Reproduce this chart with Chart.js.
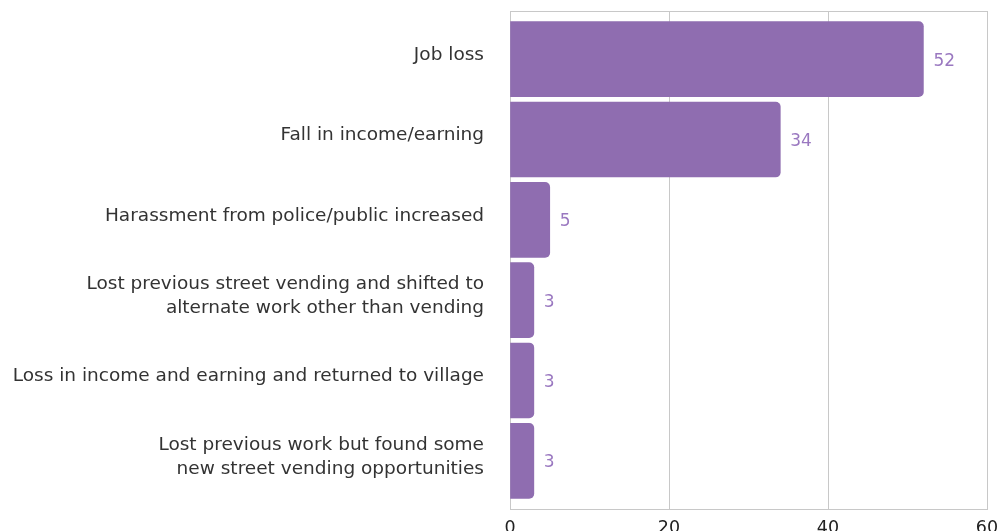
<!DOCTYPE html>
<html>
<head>
<meta charset="utf-8">
<script src="https://cdn.jsdelivr.net/npm/chart.js@4"></script>
<style>
  html, body { margin: 0; padding: 0; background: #fff; overflow: hidden; }
  #wrap { width: 1001px; height: 545px; position: relative; }
</style>
</head>
<body>
<div id="wrap"><canvas id="impactChart"></canvas></div>
<script>
// categories (multi-line ones split into arrays)
const categories = [
    'Job loss',
    'Fall in income/earning',
    'Harassment from police/public increased',
    ['Lost previous street vending and shifted to', 'alternate work other than vending'],
    'Loss in income and earning and returned to village',
    ['Lost previous work but found some', 'new street vending opportunities']
];
const counts = [52, 34, 5, 3, 3, 3];
const xTicks = [0, 20, 40, 60];

const barColor = '#8f6db0';
const valueColor = '#9a78c0';
const gridColor = '#c8c8c8';
const fontFamily = "'DejaVu Sans', sans-serif";

// top edge of the plot box
const topBorder = {
    id: 'topBorder',
    beforeDatasetsDraw(chart) {
        const { ctx, chartArea } = chart;
        ctx.save();
        ctx.strokeStyle = gridColor;
        ctx.lineWidth = 1;
        ctx.beginPath();
        ctx.moveTo(chartArea.left, chartArea.top + 0.5);
        ctx.lineTo(chartArea.right, chartArea.top + 0.5);
        ctx.stroke();
        ctx.restore();
    }
};

// value labels to the right of each bar
const valueLabels = {
    id: 'valueLabels',
    afterDatasetsDraw(chart) {
        const { ctx } = chart;
        const meta = chart.getDatasetMeta(0);
        ctx.save();
        ctx.fillStyle = valueColor;
        ctx.font = '17px ' + fontFamily;
        ctx.textAlign = 'left';
        ctx.textBaseline = 'middle';
        meta.data.forEach((bar, i) => {
            ctx.fillText(counts[i], bar.x + 10, bar.y + 2);
        });
        ctx.restore();
    }
};

// keep the plot box fixed: no extra room for overhanging tick labels
function noLabelPadding(scale) {
    scale.paddingTop = 0;
    scale.paddingBottom = 0;
    scale.paddingLeft = 0;
    scale.paddingRight = 0;
}

const ctx = document.getElementById('impactChart').getContext('2d');
const chart = new Chart(ctx, {
    type: 'bar',
    data: {
        datasets: [{
            data: counts.map((v, i) => ({ x: v, y: i })),
            backgroundColor: barColor,
            borderRadius: 5,
            borderSkipped: 'start',
            barThickness: 75
        }]
    },
    options: {
        indexAxis: 'y',
        responsive: true,
        maintainAspectRatio: false,
        animation: false,
        layout: { padding: { top: 11, right: 14, bottom: 6, left: 0 } },
        plugins: {
            legend: { display: false },
            tooltip: { enabled: false }
        },
        scales: {
            x: {
                min: 0,
                max: 60,
                afterBuildTicks: scale => { scale.ticks = xTicks.map(v => ({ value: v })); },
                afterFit: scale => { scale.height = 30; noLabelPadding(scale); },
                grid: { color: gridColor, drawTicks: false },
                border: { color: gridColor },
                ticks: {
                    padding: 9,
                    color: '#222',
                    font: { family: fontFamily, size: 17.5 },
                    maxRotation: 0
                }
            },
            y: {
                type: 'linear',
                reverse: true,
                offset: false,
                min: -0.6,
                max: 5.6,
                afterBuildTicks: scale => { scale.ticks = categories.map((c, i) => ({ value: i })); },
                afterFit: scale => { scale.width = 510; noLabelPadding(scale); },
                grid: { display: false, offset: false },
                border: { color: gridColor },
                ticks: {
                    autoSkip: false,
                    padding: 18,
                    labelOffset: -4,
                    color: '#333',
                    font: { family: fontFamily, size: 18.5, lineHeight: 1.3 },
                    callback: v => categories[v]
                }
            }
        }
    },
    plugins: [topBorder, valueLabels]
});
</script>
</body>
</html>
